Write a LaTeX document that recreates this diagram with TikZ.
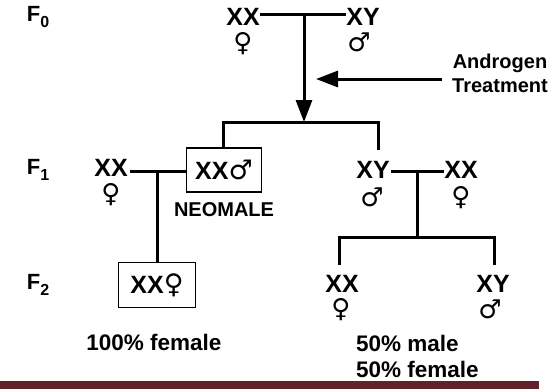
\documentclass[tikz,border=0pt]{standalone}
\usepackage{fontspec}
\setmainfont{Liberation Sans}
\newfontfamily\symfont{DejaVu Sans}
\usetikzlibrary{arrows.meta}
\begin{document}
\begin{tikzpicture}[x=1pt,y=-1pt,
  geno/.style={font=\fontsize{25}{27}\bfseries\selectfont, inner sep=0.5pt},
  sex/.style={font=\fontsize{26}{28}\symfont\selectfont, inner sep=0pt},
  gen/.style={font=\fontsize{22}{24}\bfseries\selectfont, inner sep=0pt},
  lbl/.style={font=\fontsize{20}{24}\bfseries\selectfont, inner sep=0pt},
  pct/.style={font=\fontsize{22.5}{26}\bfseries\selectfont, inner sep=0pt},
  boxed/.style={draw, line width=1.5pt, minimum width=75pt, minimum height=44pt, inner sep=0pt, font=\fontsize{25}{27}\bfseries\selectfont},
  line/.style={line width=3pt},
  arr/.style={line width=3pt, -{Triangle[length=22pt,width=16pt]}}
]
\useasboundingbox (0,0) rectangle (558,389);
\fill[white] (0,0) rectangle (558,389);
\fill[fill={rgb,255:red,96;green,34;blue,42}] (0,381) rectangle (539,389);

% generation labels
\node[gen] (g0) at (38,17) {F\raisebox{-0.3em}{\fontsize{16}{16}\selectfont 0}};
\node[gen] (g1) at (38,170) {F\raisebox{-0.3em}{\fontsize{16}{16}\selectfont 1}};
\node[gen] (g2) at (38,285) {F\raisebox{-0.3em}{\fontsize{16}{16}\selectfont 2}};

% F0
\node[geno] (p0f) at (243,17) {XX};
\node[sex]  (p0fs) at (243,44) {♀};
\node[geno] (p0m) at (363,17) {XY};
\node[sex]  (p0ms) at (359,42) {♂};
\coordinate (j0) at (304,14);
\coordinate (j1) at (304,122);
\draw[line] (p0f.east |- j0) -- (p0m.west |- j0);
\draw[arr] (j0) -- (j1);

% androgen
\node[lbl, align=center] (andro) at (500,73) {Androgen\\Treatment};
\coordinate (atip) at (316,79);
\draw[arr] (andro.west |- atip) ++(-10,0) -- (atip);

% branch to F1
\coordinate (cl) at (223,122);
\coordinate (cr) at (378,122);
\coordinate (crd) at (378,150);
\node[boxed] (neo) at (224,170) {XX{\symfont\fontsize{27}{28}\selectfont ♂}};
\node[lbl] (neolbl) at (224,210) {NEOMALE};
\draw[line] (neo.north -| cl) -- (cl) -- (cr) -- (crd);

% F1 left
\node[geno] (f1f) at (111,168) {XX};
\node[sex]  (f1fs) at (111,195) {♀};
\coordinate (j2) at (157,171);
\draw[line] (f1f.east |- j2) ++(2,0) -- (neo.west |- j2);
\node[boxed, minimum width=77pt, minimum height=45pt] (f2box) at (157,285) {XX{\symfont\fontsize{27}{28}\selectfont ♀}};
\draw[line] (j2) -- (f2box.north);
\node[pct] (pct1) at (154,342) {100\% female};

% F1 right
\node[geno] (f1m) at (373,170) {XY};
\node[sex]  (f1ms) at (372,197) {♂};
\node[geno] (f1f2) at (461,170) {XX};
\node[sex]  (f1f2s) at (461,198) {♀};
\coordinate (j3) at (417,171);
\coordinate (j4) at (417,237);
\draw[line] (f1m.east |- j3) ++(1,0) -- (f1f2.west |- j3);
\draw[line] (j3) -- (j4);

% F2 right
\node[geno] (f2f) at (342,284) {XX};
\node[sex]  (f2fs) at (341,310) {♀};
\node[geno] (f2m) at (493,284) {XY};
\node[sex]  (f2ms) at (490,309) {♂};
\coordinate (bl) at (339,237);
\coordinate (br) at (494,237);
\draw[line] (bl) ++(0,28) -- (bl) -- (br) -- ++(0,28);

\node[pct, anchor=west] (pct2) at (356,343) {50\% male};
\node[pct, anchor=west] (pct3) at (356,369) {50\% female};
\end{tikzpicture}
\end{document}
